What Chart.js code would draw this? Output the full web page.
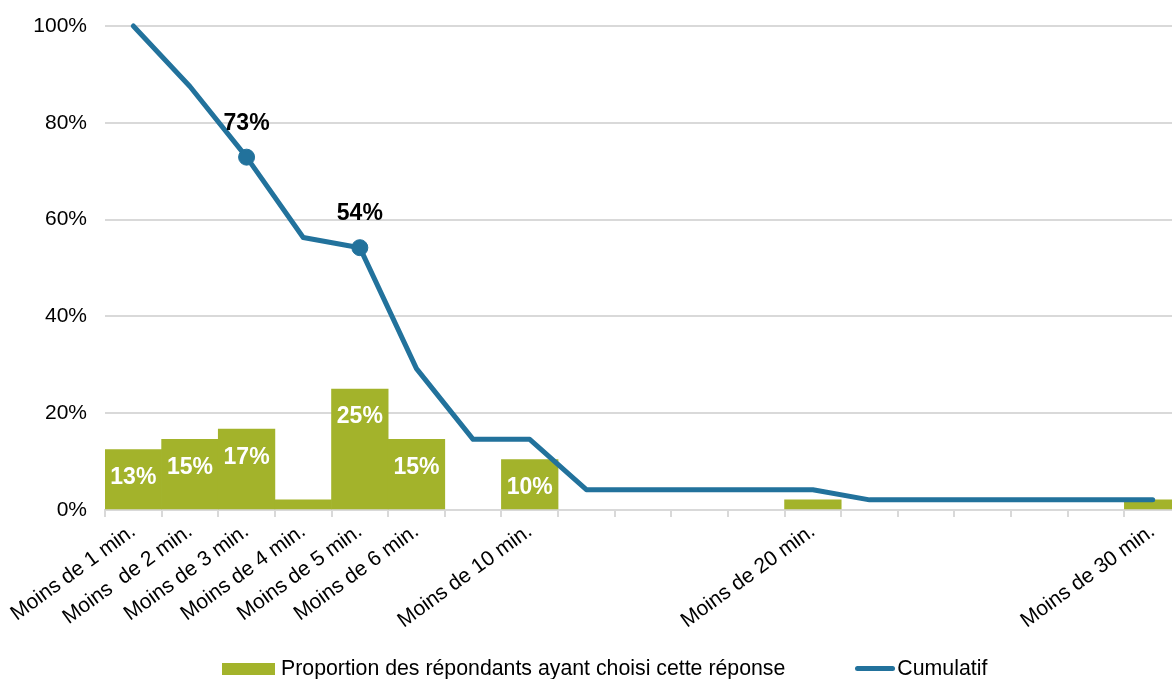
<!DOCTYPE html>
<html lang="fr">
<head>
<meta charset="UTF-8">
<title>Temps de réponse</title>
<script src="https://cdn.jsdelivr.net/npm/chart.js"></script>
<style>
    html, body { margin: 0; padding: 0; background: #fff; overflow: hidden; }
    .wrap { position: relative; width: 1181px; height: 679px; }
    .legend { position: absolute; left: 222px; top: 656px; display: flex; align-items: center;
              font-family: "Liberation Sans", Arial, sans-serif; font-size: 21.3px; color: #000; white-space: nowrap; }
    .legend .box { width: 53px; height: 12px; background: #A3B32B; margin-right: 6px; }
    .legend .line { width: 40px; height: 5px; border-radius: 3px; background: #22729C; margin-left: 70px; margin-right: 2px; }
</style>
</head>
<body>
<div class="wrap">
    <canvas id="chart" width="1181" height="679"></canvas>
    <div class="legend">
        <span class="box"></span><span>Proportion des répondants ayant choisi cette réponse</span>
        <span class="line"></span><span>Cumulatif</span>
    </div>
</div>
<script>
const categories = [
    'Moins de 1 min.', 'Moins  de 2 min.', 'Moins de 3 min.', 'Moins de 4 min.', 'Moins de 5 min.',
    'Moins de 6 min.', '', 'Moins de 10 min.', '', '', '', '', 'Moins de 20 min.',
    '', '', '', '', '', 'Moins de 30 min.'
];
const proportion = [12.5, 14.6, 16.7, 2.1, 25, 14.6, null, 10.4, null, null, null, null, 2.1,
    null, null, null, null, null, 2.1];
const cumulatif = [100, 87.5, 72.9, 56.3, 54.2, 29.2, 14.6, 14.6, 4.2, 4.2, 4.2, 4.2, 4.2,
    2.1, 2.1, 2.1, 2.1, 2.1, 2.1];
const markedPoints = [2, 4];   // points with a marker and a label on the line
const yTicks = [0, 20, 40, 60, 80, 100];

const FONT = '"Liberation Sans", Arial, sans-serif';
const GREEN = '#A3B32B';
const BLUE = '#22729C';
const GRID = '#D9D9D9';

// value labels: white inside bars, black above the marked line points
const valueLabels = {
    id: 'valueLabels',
    afterDatasetsDraw(chart) {
        const ctx = chart.ctx;
        ctx.save();
        ctx.font = 'bold 23px ' + FONT;
        ctx.textAlign = 'center';
        ctx.textBaseline = 'middle';

        const bars = chart.getDatasetMeta(1).data;
        ctx.fillStyle = '#fff';
        proportion.forEach((v, i) => {
            if (v == null || v < 5) return;
            const b = bars[i];
            ctx.fillText(Math.round(v) + '%', b.x, b.y + 28);
        });

        const pts = chart.getDatasetMeta(0).data;
        ctx.fillStyle = '#000';
        markedPoints.forEach(i => {
            const p = pts[i];
            ctx.fillText(Math.round(cumulatif[i]) + '%', p.x, p.y - 34);
        });
        ctx.restore();
    }
};

new Chart(document.getElementById('chart'), {
    data: {
        labels: categories,
        datasets: [
            {
                type: 'line',
                label: 'Cumulatif',
                data: cumulatif,
                borderColor: BLUE,
                backgroundColor: BLUE,
                borderWidth: 5,
                borderCapStyle: 'round',
                borderJoinStyle: 'round',
                pointRadius: cumulatif.map((v, i) => markedPoints.includes(i) ? 8 : 0),
                pointBorderWidth: 1,
                tension: 0,
                clip: false,
                order: 0
            },
            {
                type: 'bar',
                label: 'Proportion des répondants ayant choisi cette réponse',
                data: proportion,
                backgroundColor: GREEN,
                borderWidth: 0,
                categoryPercentage: 1,
                barPercentage: 1,
                order: 1
            }
        ]
    },
    options: {
        responsive: false,
        animation: false,
        layout: { padding: { top: 26, left: 0, right: 0, bottom: 0 } },
        plugins: { legend: { display: false }, tooltip: { enabled: false } },
        scales: {
            x: {
                offset: true,
                grid: { drawOnChartArea: false, drawTicks: true, tickLength: 7, color: GRID, lineWidth: 2 },
                border: { color: GRID, width: 2 },
                ticks: {
                    autoSkip: false, minRotation: 36, maxRotation: 36, padding: 2,
                    color: '#000', font: { family: FONT, size: 21 }
                },
                afterFit(scale) { scale.height = 679 - 510; }
            },
            y: {
                min: 0,
                max: 100,
                afterBuildTicks(scale) { scale.ticks = yTicks.map(v => ({ value: v })); },
                grid: { color: GRID, lineWidth: 2, drawTicks: false },
                border: { display: false },
                ticks: {
                    padding: 18, color: '#000', font: { family: FONT, size: 21 },
                    callback: v => v + '%'
                },
                afterFit(scale) {
                    scale.width = 105;
                    scale.paddingTop = 0;
                    scale.paddingBottom = 0;
                }
            }
        }
    },
    plugins: [valueLabels]
});
</script>
</body>
</html>
